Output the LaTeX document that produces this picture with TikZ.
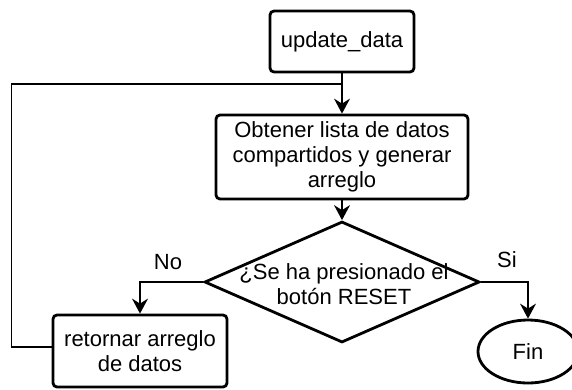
\documentclass[tikz,border=0pt]{standalone}
\usepackage{fontspec}
\setmainfont{Liberation Sans}
\usetikzlibrary{shapes.geometric,arrows.meta}

\tikzset{
  box/.style={draw, line width=2.8pt, rounded corners=4pt, align=center, inner sep=0pt},
  flow/.style={line width=1.3pt, -{Stealth[length=15pt,width=16pt,inset=5pt]}},
  link/.style={line width=1.3pt},
}

\begin{document}
\begin{tikzpicture}[x=1pt,y=-1pt,font=\fontsize{22}{25}\selectfont]
  \useasboundingbox (0,0) rectangle (572,389);

  % Process boxes
  \node[box, minimum width=144pt, minimum height=61pt] (update) at (342,41.5) {update\_data};
  \node[box, minimum width=252pt, minimum height=84pt] (obtener) at (342,157)
    {Obtener lista de datos\\compartidos y generar\\arreglo};
  \node[box, minimum width=174pt, minimum height=72pt] (retornar) at (140,351)
    {retornar arreglo\\de datos};

  % Decision and end
  \node[draw, diamond, line width=2.8pt, minimum width=275pt, minimum height=121pt,
    inner sep=0pt] (reset) at (342,282) {};
  \node[align=center] (pregunta) at (344,284) {¿Se ha presionado el\\botón RESET};
  \node[draw, ellipse, line width=2.8pt, minimum width=100pt, minimum height=63pt] (fin)
    at (528,351.5) {Fin};

  % Connectors
  \coordinate (join) at (update.south |- 0,84);
  \draw[flow] (update) -- (obtener);
  \draw[flow] (obtener) -- (reset);
  \draw[flow] (reset.west) -| (retornar.north);
  \draw[flow] (reset.east) -| (fin.north);
  \draw[link] ([yshift=4pt]retornar.west) -- ++(-40,0) |- (join);

  % Labels
  \node (no) at (168,262) {No};
  \node (si) at (507,260) {Si};

\end{tikzpicture}
\end{document}
